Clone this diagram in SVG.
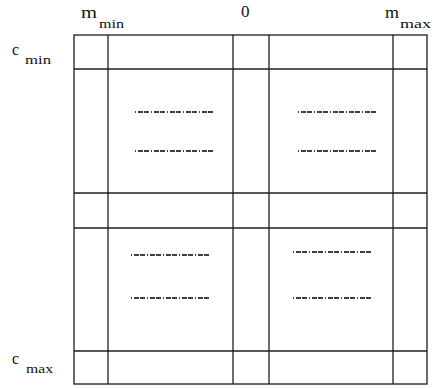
<svg xmlns="http://www.w3.org/2000/svg" width="432" height="388" viewBox="0 0 432 388">
<style>
.g{stroke:#1e1e1e;stroke-width:1.3;fill:none}
.d{stroke:#000;stroke-width:1.3;stroke-dasharray:1,2,5,1,5,2;fill:none}
.t{font-family:"Liberation Serif","Times New Roman",serif;fill:#111}
.b{font-size:17px}
.s{font-size:13px}
</style>
<rect width="432" height="388" fill="#fff"/>
<g id="grid">
<rect class="g" x="74" y="35" width="353" height="349"/>
<line class="g" x1="108" y1="35" x2="108" y2="384"/>
<line class="g" x1="233" y1="35" x2="233" y2="384"/>
<line class="g" x1="269" y1="35" x2="269" y2="384"/>
<line class="g" x1="393" y1="35" x2="393" y2="384"/>
<line class="g" x1="74" y1="69" x2="427" y2="69"/>
<line class="g" x1="74" y1="193" x2="427" y2="193"/>
<line class="g" x1="74" y1="228" x2="427" y2="228"/>
<line class="g" x1="74" y1="351" x2="427" y2="351"/>
</g>
<g id="dots">
<line class="d" x1="135" y1="112" x2="213" y2="112"/>
<line class="d" x1="135" y1="151" x2="213" y2="151"/>
<line class="d" x1="298" y1="112" x2="376" y2="112"/>
<line class="d" x1="298" y1="151" x2="376" y2="151"/>
<line class="d" x1="131" y1="255" x2="210" y2="255"/>
<line class="d" x1="131" y1="298" x2="210" y2="298"/>
<line class="d" x1="293" y1="252" x2="373" y2="252"/>
<line class="d" x1="293" y1="298" x2="373" y2="298"/>
</g>
<g id="labels">
<text class="t b" x="81" y="18" textLength="16" lengthAdjust="spacingAndGlyphs">m</text>
<text class="t s" x="99" y="28" textLength="25" lengthAdjust="spacingAndGlyphs">min</text>
<text class="t b" x="241" y="17" font-size="15">0</text>
<text class="t b" x="385" y="18" textLength="14" lengthAdjust="spacingAndGlyphs">m</text>
<text class="t s" x="400" y="28" textLength="31" lengthAdjust="spacingAndGlyphs">max</text>
<text class="t b" x="12" y="55" textLength="7" lengthAdjust="spacingAndGlyphs">c</text>
<text class="t s" x="25" y="64" textLength="26" lengthAdjust="spacingAndGlyphs">min</text>
<text class="t b" x="12" y="364" textLength="7" lengthAdjust="spacingAndGlyphs">c</text>
<text class="t s" x="26" y="373" textLength="27" lengthAdjust="spacingAndGlyphs">max</text>
</g>
</svg>
